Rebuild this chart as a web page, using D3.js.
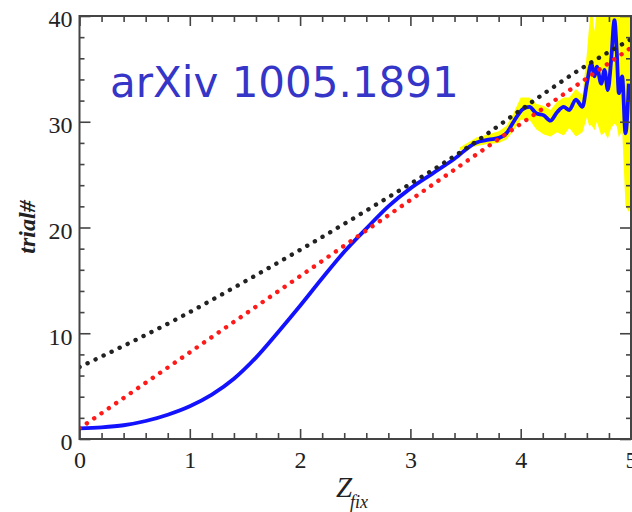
<!DOCTYPE html>
<html>
<head>
<meta charset="utf-8">
<script src="https://cdn.jsdelivr.net/npm/d3@7"></script>
<style>
    body { margin: 0; background: #fff; }
    svg  { display: block; }
    .tick text { font-family: "Liberation Serif", serif; font-size: 24px; fill: #222; }
    .tick line { stroke: #444; stroke-width: 1.6; }
</style>
</head>
<body>
<script>
/* global d3 */

// x ticks and y ticks
var xTicks = [0, 1, 2, 3, 4, 5];
var yTicks = [0, 10, 20, 30, 40];

// blue curve
var blueX = [0, 0.2, 0.4, 0.6, 0.8, 1.0, 1.2, 1.4, 1.6, 1.8, 2.0, 2.2, 2.4, 2.6, 2.8,
             3.0, 3.2, 3.4, 3.59, 3.71, 3.81, 3.87, 3.93, 4.02, 4.08, 4.14, 4.21, 4.27, 4.33, 4.39,
             4.44, 4.5, 4.56, 4.6, 4.64, 4.67, 4.69, 4.73, 4.76, 4.79, 4.82, 4.85, 4.87, 4.89,
             4.92, 4.95, 4.98];
var blueY = [1.0, 1.1, 1.3, 1.7, 2.3, 3.1, 4.2, 5.7, 7.7, 10.1, 12.6, 15.2, 17.7, 19.9, 22.0,
             23.7, 25.1, 26.5, 28.0, 28.3, 28.5, 28.9, 29.9, 31.2, 31.4, 30.8, 30.6, 30.1, 30.9, 31.4,
             31.1, 32.1, 31.4, 33.6, 35.5, 34.3, 35.2, 33.6, 34.9, 33.0, 35.8, 39.6, 36.8, 32.7,
             34.3, 28.9, 33.6];

// yellow error band
var bandX    = [3.45, 3.6, 3.7, 3.8, 3.87, 3.93, 4.0, 4.08, 4.14, 4.21, 4.27, 4.33, 4.39, 4.44,
                4.5, 4.56, 4.6, 4.62, 4.64, 4.67, 4.69, 4.73, 4.76, 4.79, 4.82, 4.85, 4.87, 4.89,
                4.92, 4.95, 4.98, 5.0];
var bandLow  = [27.3, 27.7, 27.9, 28.0, 28.3, 29.1, 30.2, 30.2, 29.3, 28.8, 28.6, 29.0, 28.7,
                29.4, 28.6, 29.0, 30.4, 29.6, 29.7, 29.2, 30.0, 28.7, 29.0, 28.4, 29.4, 29.8,
                29.6, 28.5, 29.2, 22.0, 21.5, 22.0];
var bandHigh = [27.6, 28.5, 28.8, 29.1, 29.6, 30.7, 32.3, 32.3, 31.7, 31.5, 31.1, 31.9, 32.3,
                32.3, 33.1, 32.5, 36.5, 39.0, 41, 38.5, 41, 41, 41, 41, 41, 41, 41, 41,
                41, 41, 41, 41];

// dotted reference lines
var blackX = [0, 0.91, 1.5, 2.6, 3.62, 3.93, 4.23, 4.53, 5.0];
var blackY = [6.8, 11.5, 14.9, 21.6, 28.3, 30.6, 32.8, 34.9, 37.8];
var redX   = [0, 5.0];
var redY   = [1.0, 37.0];

var zip = (xs, ys) => xs.map((v, i) => [v, ys[i]]);

var width  = 632;
var height = 512;
var mLeft = 79.5, mRight = 631, mTop = 16, mBottom = 439;

var svg = d3.select("body").append("svg")
            .attr("width", width)
            .attr("height", height);

var x = d3.scaleLinear().domain([0, 5]).range([mLeft, mRight]);
var y = d3.scaleLinear().domain([0, 40]).range([mBottom, mTop]);

svg.append("clipPath").attr("id", "plot")
   .append("rect")
   .attr("x", mLeft).attr("y", mTop)
   .attr("width", mRight - mLeft).attr("height", mBottom - mTop);

var line = d3.line()
             .x((d) => x(d[0]))
             .y((d) => y(d[1]))
             .curve(d3.curveMonotoneX);

var plot = svg.append("g").attr("clip-path", "url(#plot)");

// yellow band
plot.append("path")
    .datum(bandX.map((v, i) => [v, bandLow[i], bandHigh[i]]))
    .attr("d", d3.area()
                 .x((d) => x(d[0]))
                 .y0((d) => y(d[1]))
                 .y1((d) => y(d[2])))
    .attr("fill", "#ffff00");

plot.append("path")
    .datum(zip(blueX, blueY))
    .attr("d", line)
    .attr("fill", "none")
    .attr("stroke", "#1212ff")
    .attr("stroke-width", 3.8)
    .attr("stroke-linejoin", "round");

var dotted = (pts, color) => {
    plot.append("path")
        .datum(pts)
        .attr("d", line)
        .attr("fill", "none")
        .attr("stroke", color)
        .attr("stroke-width", 4.4)
        .attr("stroke-linecap", "round")
        .attr("stroke-dasharray", "0.1 8.8");
};
dotted(zip(blackX, blackY), "#222");
dotted(zip(redX, redY), "#ff1a1a");

// axes: ticks point inward on all four sides
var minorX = d3.range(0, 5.01, 0.2).filter((v) => Math.abs(v - Math.round(v)) > 0.01);
var minorY = d3.range(0, 40.1, 2).filter((v) => v % 10 !== 0);
var intFmt = d3.format("d");

var addAxis = (axis, tx, ty) => {
    var g = svg.append("g")
               .attr("transform", "translate(" + tx + "," + ty + ")")
               .call(axis);
    g.select(".domain").remove();
    return g;
};

addAxis(d3.axisBottom(x).tickValues(minorX).tickSize(-6).tickFormat(""), 0, mBottom);
addAxis(d3.axisTop(x).tickValues(minorX).tickSize(-6).tickFormat(""), 0, mTop);
addAxis(d3.axisLeft(y).tickValues(minorY).tickSize(-5).tickFormat(""), mLeft, 0);
addAxis(d3.axisRight(y).tickValues(minorY).tickSize(-5).tickFormat(""), mRight, 0);

addAxis(d3.axisBottom(x).tickValues(xTicks).tickSize(-10).tickPadding(12).tickFormat(intFmt), 0, mBottom);
addAxis(d3.axisTop(x).tickValues(xTicks).tickSize(-10).tickFormat(""), 0, mTop);
addAxis(d3.axisLeft(y).tickValues(yTicks).tickSize(-11).tickPadding(7).tickFormat(intFmt), mLeft, 0)
    .selectAll("text").attr("dy", "0.45em");
addAxis(d3.axisRight(y).tickValues(yTicks).tickSize(-11).tickFormat(""), mRight, 0);

svg.append("path")
   .attr("d", "M" + mLeft + "," + mTop + "H" + mRight + "V" + mBottom + "H" + mLeft + "Z")
   .attr("fill", "none")
   .attr("stroke", "#444")
   .attr("stroke-width", 2);

// axis titles
svg.append("text")
   .attr("transform", "translate(35,227) rotate(-90)")
   .attr("text-anchor", "middle")
   .style("font-family", "Liberation Serif, serif")
   .style("font-style", "italic")
   .style("font-weight", "bold")
   .style("font-size", "24px")
   .attr("fill", "#222")
   .text("trial#");

var xTitle = svg.append("text")
                .style("font-family", "Liberation Serif, serif")
                .style("font-style", "italic")
                .attr("fill", "#222");
xTitle.append("tspan").attr("x", 336).attr("y", 497).style("font-size", "29px").text("Z");
xTitle.append("tspan").attr("x", 350).attr("y", 508).style("font-size", "18px").text("fix");

svg.append("text")
   .attr("x", 110)
   .attr("y", 97)
   .style("font-family", "DejaVu Sans, sans-serif")
   .style("font-size", "42px")
   .attr("fill", "#3535c8")
   .text("arXiv 1005.1891");
</script>
</body>
</html>
